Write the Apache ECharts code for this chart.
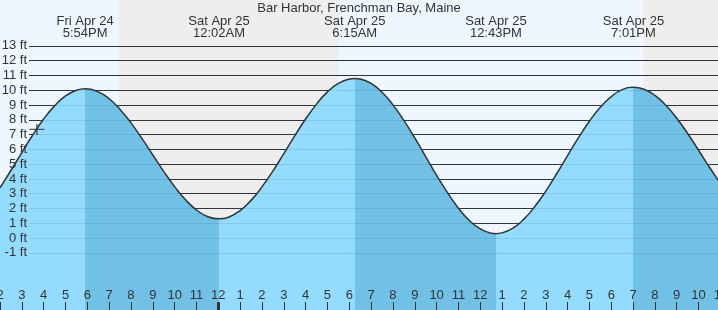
<!DOCTYPE html>
<html><head><meta charset="utf-8">
<script src="https://cdn.jsdelivr.net/npm/echarts@6/dist/echarts.min.js"></script>
<style>html,body{margin:0;padding:0;background:#eef7ff}#c{width:718px;height:310px}</style>
</head><body><div id="c"></div>
<script>
const chartTitle = 'Bar Harbor, Frenchman Bay, Maine';
// hours counted from Fri Apr 24, 2:00 PM
const tideHours = [0, 0.5, 1, 1.5, 2, 2.5, 3, 3.5, 3.9, 4.5, 5, 5.5, 6, 6.5, 7, 7.5, 8, 8.5, 9, 9.5, 10.033, 10.5, 11, 11.5, 12, 12.5, 13, 13.5, 14, 14.5, 15, 15.5, 16, 16.25, 16.5, 17, 17.5, 18, 18.5, 19, 19.5, 20, 20.5, 21, 21.5, 22, 22.5, 22.717, 23, 23.5, 24, 24.5, 25, 25.5, 26, 26.5, 27, 27.5, 28, 28.5, 29.017, 29.5, 30, 30.5, 31, 31.5, 32, 32.5, 33];
const tideFeet  = [3.4, 4.57, 5.78, 6.97, 8.05, 8.94, 9.61, 10.0, 10.1, 9.89, 9.42, 8.70, 7.79, 6.74, 5.62, 4.51, 3.48, 2.59, 1.90, 1.46, 1.3, 1.43, 1.86, 2.55, 3.46, 4.53, 5.71, 6.91, 8.05, 9.06, 9.89, 10.46, 10.76, 10.8, 10.76, 10.46, 9.86, 9.01, 7.96, 6.77, 5.51, 4.24, 3.07, 2.02, 1.19, 0.62, 0.33, 0.3, 0.35, 0.67, 1.28, 2.13, 3.18, 4.35, 5.58, 6.79, 7.90, 8.85, 9.57, 10.04, 10.2, 10.07, 9.65, 8.99, 8.10, 7.07, 5.94, 4.79, 3.69];
const extremeHours = [3.9, 10.033, 16.25, 22.717, 29.017];
const extremeFeet  = [10.1, 1.3, 10.8, 0.3, 10.2];
const extremeKinds = ['high', 'low', 'high', 'low', 'high'];
const extremeDates = ['Fri Apr 24', 'Sat Apr 25', 'Sat Apr 25', 'Sat Apr 25', 'Sat Apr 25'];
const extremeClock = ['5:54PM', '12:02AM', '6:15AM', '12:43PM', '7:01PM'];
const nightStart = [5.45, 29.47];
const nightEnd   = [15.52, 33];
const hourLabels = ['2','3','4','5','6','7','8','9','10','11','12','1','2','3','4','5','6','7','8','9','10','11','12','1','2','3','4','5','6','7','8','9','10','11'];
const midnightHours = [10];
const nowHour = 1.69;
const nowFeet = 7.35;
const axisStartHour = 0, axisEndHour = 33;
const depthMin = -1, depthMax = 13;

const FONT = 'Liberation Sans, Arial, sans-serif';
const LIGHT = '#93dcff', DARK = '#71c0e6', NIGHT = '#eeeeee', TEXT = '#333';

const ebb = [];
extremeKinds.forEach((k, i) => {
  if (k === 'high') ebb.push([extremeHours[i], i + 1 < extremeHours.length ? extremeHours[i + 1] : axisEndHour + 1]);
});

const chart = echarts.init(document.getElementById('c'), null, {renderer: 'canvas'});
chart.setOption({
  animation: false,
  backgroundColor: '#eef7ff',
  title: {text: chartTitle, left: 'center', top: 2, padding: 0,
    textStyle: {fontSize: 13, fontWeight: 'normal', color: TEXT, fontFamily: FONT}},
  grid: [
    {left: 0, right: -2.4, top: 1.5, bottom: -2, outerBoundsMode: 'none', containLabel: false},
    {left: 29, right: -2.4, top: 45.85, bottom: 57.14, outerBoundsMode: 'none', containLabel: false}
  ],
  xAxis: [
    {gridIndex: 0, type: 'value', min: axisStartHour, max: axisEndHour, interval: 1, position: 'bottom',
      axisLine: {show: false, onZero: false}, splitLine: {show: false},
      axisTick: {show: true, inside: true, length: 10, lineStyle: {color: TEXT, width: 1}},
      axisLabel: {inside: true, margin: 10, color: TEXT, fontSize: 13, fontFamily: FONT,
        formatter: v => hourLabels[Math.round(v - axisStartHour)] || ''}, z: 3},
    {gridIndex: 0, type: 'value', min: axisStartHour, max: axisEndHour, position: 'top',
      axisLine: {show: false, onZero: false}, axisTick: {show: false}, splitLine: {show: false},
      axisLabel: {inside: true, margin: 14, customValues: extremeHours, color: TEXT, fontSize: 13,
        lineHeight: 12, fontFamily: FONT,
        formatter: v => {
          const i = extremeHours.findIndex(h => Math.abs(h - v) < 1e-6);
          return i < 0 ? '' : extremeDates[i] + '\n' + extremeClock[i];
        }}, z: 3},
    {gridIndex: 0, type: 'value', min: axisStartHour, max: axisEndHour, position: 'bottom',
      axisLine: {show: false, onZero: false}, splitLine: {show: false}, axisLabel: {show: false},
      axisTick: {show: true, inside: true, length: 10, customValues: midnightHours, lineStyle: {color: TEXT, width: 3}}, z: 3},
    {gridIndex: 1, type: 'value', min: axisStartHour, max: axisEndHour, show: false, axisLine: {onZero: false}}
  ],
  yAxis: [
    {gridIndex: 0, type: 'value', min: -5, max: 16, show: false, position: 'left', axisLine: {onZero: false}},
    {gridIndex: 1, type: 'value', min: depthMin, max: depthMax, interval: 1, position: 'left',
      axisLine: {show: false, onZero: false}, axisTick: {show: false}, axisLabel: {show: false},
      splitLine: {show: true, lineStyle: {color: '#333', width: 1}}, z: 1},
    {gridIndex: 1, type: 'value', min: depthMin, max: depthMax, interval: 1, position: 'left',
      axisLine: {show: false, onZero: false}, axisTick: {show: false},
      axisLabel: {formatter: '{value} ft', margin: 2, color: TEXT, fontSize: 13, fontFamily: FONT},
      splitLine: {show: true, lineStyle: {color: 'rgba(20,70,110,0.13)', width: 1}}, z: 3}
  ],
  visualMap: {type: 'piecewise', show: false, seriesIndex: 1, dimension: 0,
    pieces: ebb.map(([a, b]) => ({gte: a, lt: b, color: DARK})),
    outOfRange: {color: LIGHT}},
  series: [
    {type: 'custom', xAxisIndex: 0, yAxisIndex: 0, z: 0, silent: true,
      data: nightStart.map((s, i) => [s, nightEnd[i]]),
      renderItem: (params, api) => {
        const x0 = api.coord([api.value(0), 0])[0];
        const x1 = api.coord([api.value(1), 0])[0];
        return {type: 'rect', shape: {x: x0, y: 0, width: x1 - x0, height: api.getHeight()},
          style: {fill: NIGHT}};
      }},
    {type: 'line', xAxisIndex: 0, yAxisIndex: 0, z: 2, smooth: 0.5, symbol: 'none',
      data: tideHours.map((h, i) => [h, tideFeet[i]]),
      lineStyle: {color: '#333', width: 1.5},
      areaStyle: {opacity: 1, origin: 'start'}},
    {type: 'scatter', xAxisIndex: 0, yAxisIndex: 0, z: 4,
      symbol: 'path://M4.5,0h1v4.5h4.5v1h-4.5v4.5h-1v-4.5h-4.5v-1h4.5z', symbolSize: [15, 11],
      itemStyle: {color: '#333'}, data: [[nowHour, nowFeet]]}
  ]
});
</script></body></html>
